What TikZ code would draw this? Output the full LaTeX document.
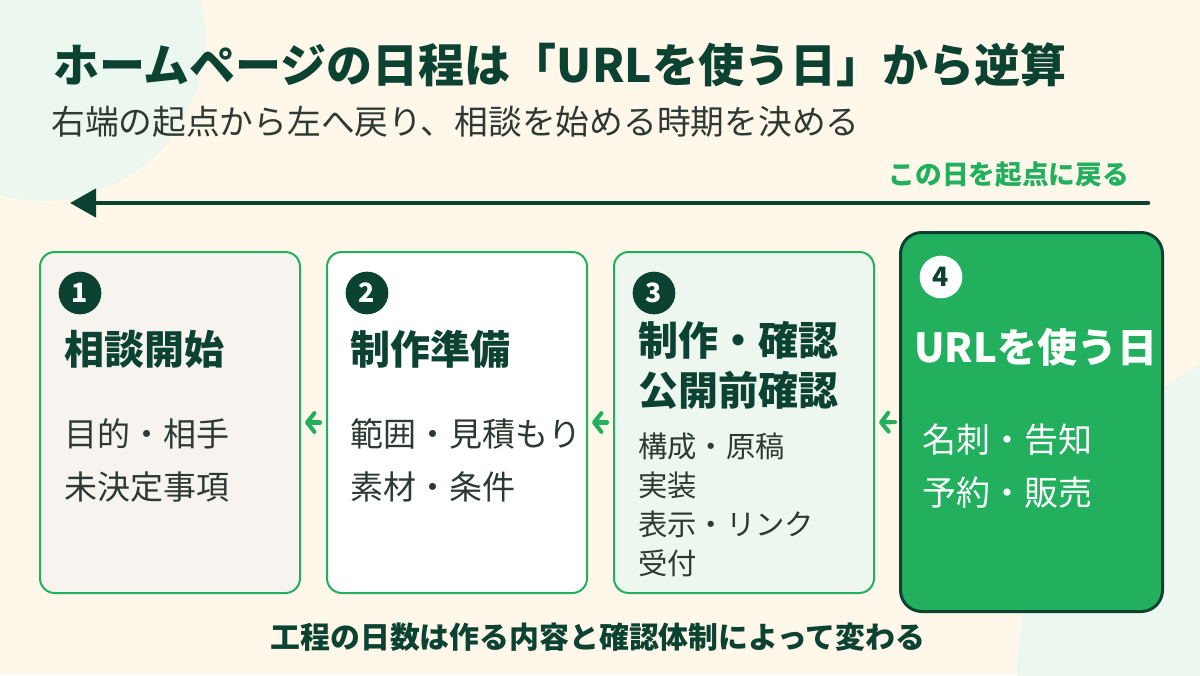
\documentclass[tikz,border=0pt]{standalone}
\usepackage{fontspec}
\setmainfont{Noto Sans CJK JP}
\usetikzlibrary{arrows.meta}
\definecolor{bgcream}{HTML}{FFF7E9}
\definecolor{mint}{HTML}{ECF7EF}
\definecolor{deepgreen}{HTML}{0B4232}
\definecolor{leafgreen}{HTML}{22B05E}
\definecolor{inkgray}{HTML}{2C3A33}
\definecolor{boxgray}{HTML}{F7F3EF}
\definecolor{boxmint}{HTML}{EDF7F0}
\begin{document}
\begin{tikzpicture}[x=0.75pt, y=-0.75pt,
  stage/.style={draw=leafgreen, line width=1.5pt, rounded corners=11pt, minimum width=195pt, minimum height=255.75pt, inner sep=0pt},
  num/.style={circle, fill=deepgreen, text=white, font=\fontsize{20}{20}\selectfont\bfseries, minimum size=32pt, inner sep=0pt},
  head/.style={anchor=west, inner sep=0pt, text=deepgreen, font=\fontsize{30}{30}\selectfont\bfseries},
  item/.style={anchor=west, inner sep=0pt, text=inkgray, font=\fontsize{24.75}{24.75}\selectfont},
  back/.style={draw=leafgreen, line width=3.1pt, line cap=round, -{Straight Barb[length=5.5pt, width=14pt, round]}}]
\fill[bgcream] (0,0) rectangle (1200,675);
\useasboundingbox (0,0) rectangle (1200,675);
\begin{scope}
\clip (0,0) rectangle (1200,675);
\fill[mint] (42,38) circle [radius=122.25pt];
\fill[mint] (1380,680) circle [radius=272.25pt];
\end{scope}
\node[anchor=west, inner sep=0pt, text=deepgreen, font=\fontsize{34.5}{34.5}\selectfont\bfseries] (title) at (53,65) {ホームページの日程は「URLを使う日」から逆算};
\node[anchor=west, inner sep=0pt, text=inkgray, font=\fontsize{25.3}{25.3}\selectfont] (subtitle) at (51,122) {右端の起点から左へ戻り、相談を始める時期を決める};
\node[anchor=east, inner sep=0pt, text=leafgreen, font=\fontsize{20}{20}\selectfont\bfseries] (startlbl) at (1129,175) {この日を起点に戻る};
\coordinate (tailR) at (1148,203);
\coordinate (tipL) at (70,203);
\draw[deepgreen, line width=3.4pt, line cap=round, -{Triangle[length=19.5pt, width=21pt]}] (tailR) -- (tipL);
\node[stage, fill=boxgray] (stp1) at (170,422.5){};
\node[num] (num1) at (80,293){1};
\node[head] (head1) at (64,349){相談開始};
\node[item] (item1a) at (64,434){目的・相手};
\node[item] (item1b) at (64,487){未決定事項};
\node[stage, fill=white] (stp2) at (457,422.5){};
\node[num] (num2) at (367,293){2};
\node[head] (head2) at (350,349){制作準備};
\node[item] (item2a) at (350,434){範囲・見積もり};
\node[item] (item2b) at (350,487){素材・条件};
\node[stage, fill=boxmint] (stp3) at (744,422.5){};
\node[num] (num3) at (654,293){3};
\node[head] (head3a) at (638,340){制作・確認};
\node[head] (head3b) at (638,390){公開前確認};
\node[item, font=\fontsize{22}{22}\selectfont] (item3a) at (638,446){構成・原稿};
\node[item, font=\fontsize{22}{22}\selectfont] (item3b) at (638,485){実装};
\node[item, font=\fontsize{22}{22}\selectfont] (item3c) at (638,524){表示・リンク};
\node[item, font=\fontsize{22}{22}\selectfont] (item3d) at (638,563){受付};
\node[stage, fill=leafgreen, draw=deepgreen, line width=2.25pt, rounded corners=16pt, minimum width=196.5pt, minimum height=284.25pt] (stp4) at (1031.5,422){};
\node[num, fill=white, text=deepgreen] (num4) at (941,277){4};
\node[head, text=white] (head4) at (914,347){URLを使う日};
\node[item, text=white, font=\fontsize{25.5}{25.5}\selectfont] (item4a) at (922,440){名刺・告知};
\node[item, text=white, font=\fontsize{25.5}{25.5}\selectfont] (item4b) at (922,493){予約・販売};
\draw[back, shorten <=4.5pt, shorten >=3pt] (stp2.west) -- (stp1.east);
\draw[back, shorten <=4.5pt, shorten >=3pt] (stp3.west) -- (stp2.east);
\draw[back, shorten <=3pt, shorten >=3pt] (stp4.west) -- (stp3.east);
\node[inner sep=0pt, text=deepgreen, font=\fontsize{22.4}{22.4}\selectfont\bfseries] (note) at (598,637){工程の日数は作る内容と確認体制によって変わる};
\end{tikzpicture}
\end{document}
